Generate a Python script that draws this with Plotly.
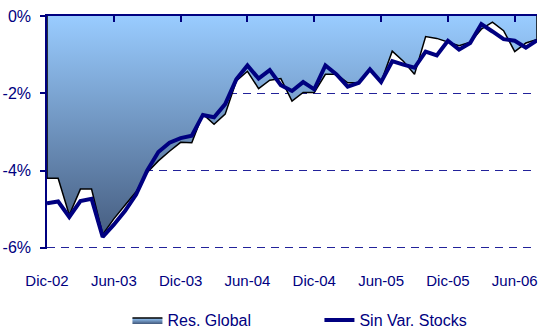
import plotly.graph_objects as go

months = ["Dic-02","Ene-03","Feb-03","Mar-03","Abr-03","May-03","Jun-03","Jul-03","Ago-03","Sep-03","Oct-03","Nov-03",
          "Dic-03","Ene-04","Feb-04","Mar-04","Abr-04","May-04","Jun-04","Jul-04","Ago-04","Sep-04","Oct-04","Nov-04",
          "Dic-04","Ene-05","Feb-05","Mar-05","Abr-05","May-05","Jun-05","Jul-05","Ago-05","Sep-05","Oct-05","Nov-05",
          "Dic-05","Ene-06","Feb-06","Mar-06","Abr-06","May-06","Jun-06","Jul-06","Ago-06"]

res_global = [-4.2, -4.2, -5.15, -4.48, -4.48, -5.65, -5.25, -4.9, -4.55, -4.05, -3.75, -3.5,
              -3.27, -3.28, -2.54, -2.8, -2.54, -1.68, -1.43, -1.88, -1.66, -1.62, -2.2, -1.98,
              -1.98, -1.51, -1.51, -1.73, -1.73, -1.38, -1.71, -0.91, -1.17, -1.51, -0.53, -0.58,
              -0.68, -0.77, -0.68, -0.34, -0.16, -0.38, -0.92, -0.7, -0.61]

sin_var_stocks = [-4.85, -4.8, -5.2, -4.79, -4.73, -5.72, -5.4, -5.05, -4.62, -4.0, -3.52, -3.28,
                  -3.16, -3.1, -2.56, -2.62, -2.28, -1.64, -1.28, -1.62, -1.4, -1.79, -1.94, -1.71,
                  -1.9, -1.28, -1.51, -1.83, -1.73, -1.38, -1.71, -1.17, -1.26, -1.34, -0.92, -1.02,
                  -0.64, -0.87, -0.7, -0.21, -0.4, -0.6, -0.64, -0.82, -0.63]

tick_labels = ["Dic-02", "Jun-03", "Dic-03", "Jun-04", "Dic-04", "Jun-05", "Dic-05", "Jun-06"]
y_ticks = [0, -2, -4, -6]
y_tick_labels = ["0%", "-2%", "-4%", "-6%"]

NAVY = "#000080"
FONT = "Liberation Sans"

idx = list(range(len(months)))
tick_vals = [months.index(t) for t in tick_labels]

# closed polygon for the area (zero baseline -> series -> zero baseline)
area_x = [idx[0]] + idx + [idx[-1]]
area_y = [0] + res_global + [0]

fig = go.Figure()
fig.add_trace(go.Scatter(
    x=area_x, y=area_y, mode="lines", name="Res. Global",
    fill="toself",
    fillgradient=dict(type="vertical", start=-6, stop=0,
                      colorscale=[[0, "#42587a"], [1, "#99ccff"]]),
    line=dict(color="#000000", width=1.5),
    hoverinfo="skip",
))
fig.add_trace(go.Scatter(
    x=idx, y=sin_var_stocks, mode="lines", name="Sin Var. Stocks",
    line=dict(color=NAVY, width=4),
))
# invisible trace for the top axis (category axis crossing at 0%)
fig.add_trace(go.Scatter(x=idx, y=sin_var_stocks, xaxis="x2", mode="lines",
                         line=dict(width=0), showlegend=False, hoverinfo="skip", opacity=0))

fig.update_layout(
    width=540, height=331,
    margin=dict(l=47, r=3, t=16, b=82),
    paper_bgcolor="white", plot_bgcolor="white",
    font=dict(family=FONT, color=NAVY, size=15),
    xaxis=dict(range=[0, len(months) - 1], tickvals=tick_vals, ticktext=tick_labels,
               showgrid=False, zeroline=False, showline=False, ticks="",
               tickfont=dict(size=15, color=NAVY), ticklabelstandoff=21),
    xaxis2=dict(range=[0, len(months) - 1], overlaying="x", side="top", matches="x",
                tickvals=tick_vals, showticklabels=False, showgrid=False, zeroline=False,
                showline=True, linecolor=NAVY, linewidth=1.5,
                ticks="inside", ticklen=6, tickcolor=NAVY, tickwidth=1.5),
    yaxis=dict(range=[-6.03, 0], tickvals=y_ticks, ticktext=y_tick_labels,
               showgrid=True, gridcolor="#22229a", gridwidth=1, griddash="8px,6px",
               zeroline=False, showline=True, linecolor=NAVY, linewidth=1.5,
               ticks="outside", ticklen=5, tickcolor=NAVY, tickwidth=1.5,
               tickfont=dict(size=16, color=NAVY), ticklabelstandoff=6),
    legend=dict(orientation="h", x=0.556, xanchor="center", xref="paper",
                y=0.033, yanchor="middle", yref="container",
                font=dict(size=16, color=NAVY), bgcolor="rgba(0,0,0,0)",
                itemwidth=30, entrywidth=147, entrywidthmode="pixels"),
    showlegend=True,
)

fig.write_html("out.html")
